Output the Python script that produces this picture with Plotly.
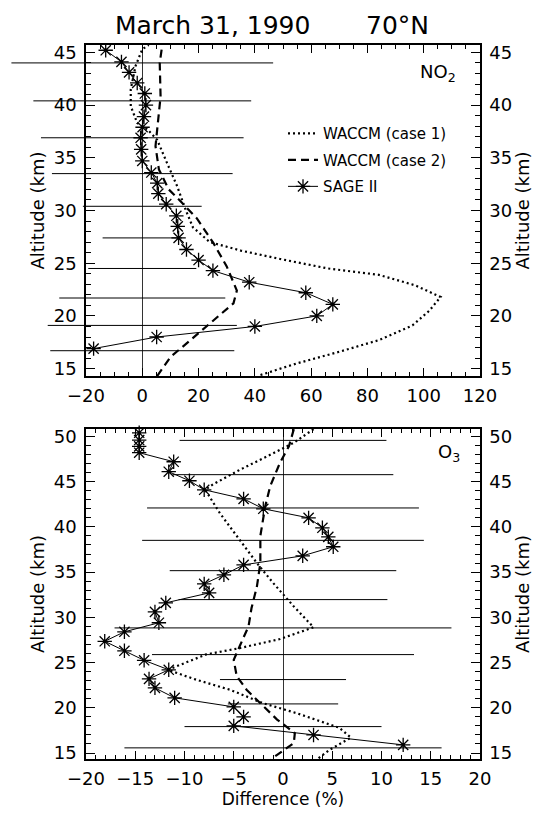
import plotly.graph_objects as go

# ─── DATA ─────────────────────────────────────────────────────
# NO2 panel (top)
no2_sage_alt = [45.2, 44.1, 43.1, 42.1, 41.1, 40.0, 38.9, 37.9, 36.9, 35.8, 34.7, 33.6, 32.6, 31.6,
                30.6, 29.5, 28.5, 27.4, 26.3, 25.3, 24.3, 23.2, 22.2, 21.1, 20.0, 19.0, 18.0, 16.9]
no2_sage_diff = [-13.0, -7.4, -4.7, -1.8, 0.9, 1.3, 0.6, 0.1, -0.6, -0.4, 0.0, 3.2, 5.3, 5.7,
                 8.5, 12.1, 12.6, 12.9, 15.7, 20.0, 25.1, 38.0, 58.1, 67.7, 62.0, 40.0, 5.1, -17.3]

no2_case1_alt = [14.4, 15.5, 16.6, 17.7, 19.1, 20.5, 21.8, 22.9, 23.9, 24.5, 25.4, 26.2, 27.0, 28.4,
                 30.0, 32.3, 34.5, 36.7, 37.7, 38.3, 39.9, 41.5, 43.7, 45.3, 45.7]
no2_case1_diff = [42.0, 55.0, 70.0, 84.0, 96.0, 102.0, 106.0, 97.0, 84.0, 66.0, 49.0, 35.0, 24.0, 18.0,
                  15.5, 12.4, 8.8, 5.3, 1.8, -1.8, -4.1, -4.1, -2.4, 0.0, 2.3]

no2_case2_alt = [14.3, 16.1, 17.7, 19.6, 21.2, 22.4, 24.7, 26.9, 29.25, 30.9, 32.0, 33.9, 36.1,
                 37.7, 40.8, 44.0, 45.7]
no2_case2_diff = [5.3, 10.0, 17.1, 25.3, 32.4, 33.6, 30.0, 25.3, 19.4, 13.5, 9.4, 5.9, 4.7,
                  5.3, 6.5, 6.2, 7.1]

no2_err_alt = [44.0, 40.4, 36.9, 33.5, 30.4, 27.4, 24.5, 21.7, 19.1, 16.7]
no2_err_half = [46.5, 38.7, 36.0, 32.1, 21.1, 14.1, 19.2, 29.5, 33.6, 32.7]

# O3 panel (bottom)
o3_sage_alt = [50.4, 49.6, 48.9, 48.2, 47.2, 46.1, 45.1, 44.1, 43.1, 42.0, 41.0, 39.9, 38.9, 37.8,
               36.8, 35.8, 34.7, 33.7, 32.7, 31.6, 30.6, 29.4, 28.4, 27.35, 26.3, 25.25, 24.2,
               23.2, 22.2, 21.1, 20.1, 19.0, 18.0, 17.0, 15.9]
o3_sage_diff = [-14.6, -14.6, -14.6, -14.6, -11.1, -11.6, -9.5, -8.0, -4.0, -2.0, 2.6, 4.0, 4.6, 5.1,
                2.0, -4.0, -6.0, -8.0, -7.5, -11.9, -13.0, -12.6, -16.1, -18.1, -16.1, -14.1, -11.6,
                -13.6, -13.0, -11.0, -5.0, -4.0, -5.0, 3.1, 12.2]

o3_case1_alt = [50.8, 49.3, 47.8, 46.3, 44.7, 44.1, 41.5, 39.0, 36.0, 33.8, 31.2, 28.9, 27.6, 26.6,
                25.9, 24.2, 23.1, 22.0, 20.5, 19.4, 18.5, 17.8, 16.7, 15.4, 14.6, 14.3]
o3_case1_diff = [3.1, 1.1, -1.6, -4.4, -7.1, -7.9, -6.4, -4.7, -2.65, -1.0, 1.1, 3.1, -0.3, -4.4,
                 -7.8, -11.7, -8.8, -5.4, -2.0, 1.4, 3.8, 5.7, 6.9, 4.8, 3.8, 3.5]

o3_case2_alt = [50.8, 48.9, 47.1, 44.5, 42.3, 39.0, 36.0, 33.4, 31.0, 29.0, 26.8, 25.3, 23.5, 22.0,
                20.5, 18.7, 17.2, 16.1, 14.8, 14.3]
o3_case2_diff = [1.1, 0.6, -0.3, -1.3, -1.8, -2.3, -2.3, -2.65, -3.2, -3.5, -4.4, -5.0, -4.7, -3.7,
                 -2.3, -0.6, 1.2, 1.1, -0.6, -1.2]

o3_err_alt = [49.56, 45.77, 42.09, 38.51, 35.16, 31.96, 28.83, 25.88, 23.12, 20.43, 17.92, 15.57]
o3_err_half = [10.5, 11.2, 13.8, 14.3, 11.5, 10.6, 17.1, 13.3, 6.4, 5.6, 10.0, 16.1]

# ─── STYLE / GEOMETRY ─────────────────────────────────────────
FONT = "DejaVu Sans"
INK = "black"
CLEAR = "rgba(0,0,0,0)"
STAR = dict(symbol="asterisk-open", size=12, color=INK, line=dict(width=1.3, color=INK))
TICKFONT = dict(family=FONT, size=18, color=INK)

# the page body adds an 8px offset, so the figure is sized to fit the window
W, H = 533, 812
PLOT_L, PLOT_R = 78, 472          # pixel edges of the framed panels
PLOT_T, PLOT_B = 37, 751
X_DOM = [PLOT_L / W, PLOT_R / W]
TOP = [0.5364, 1.0]
BOT = [0.0, 0.4622]
NO2_X = [-20, 120]
O3_X = [-20, 20]
NO2_Y = [14.3, 45.7]
O3_Y = [14.34, 50.82]


def full_width_range(rng):
    # same data scale as the framed axis, stretched over the whole figure width
    per_px = (rng[1] - rng[0]) / (PLOT_R - PLOT_L)
    return [rng[0] - PLOT_L * per_px, rng[1] + (W - PLOT_R) * per_px]


def add_panel(fig, xa, ya, xe, ye, sage_alt, sage_diff, c1_alt, c1_diff, c2_alt, c2_diff,
              err_alt, err_half, legend):
    # error bars live on a hidden full-width subplot so they can run past the frame
    fig.add_trace(go.Scatter(
        x=[0] * len(err_alt), y=err_alt, mode="markers",
        marker=dict(size=1, color=CLEAR),
        error_x=dict(type="data", array=err_half, symmetric=True, width=0,
                     thickness=1, color=INK),
        xaxis=xe, yaxis=ye, showlegend=False, hoverinfo="skip",
    ))
    fig.add_trace(go.Scatter(
        x=c1_diff, y=c1_alt, mode="lines", name="WACCM (case 1)", legendgroup="a",
        line=dict(color=INK, width=2.2, dash="2px,3px"),
        xaxis=xa, yaxis=ya, showlegend=legend,
    ))
    fig.add_trace(go.Scatter(
        x=c2_diff, y=c2_alt, mode="lines", name="WACCM (case 2)", legendgroup="b",
        line=dict(color=INK, width=2.2, dash="8px,5px"),
        xaxis=xa, yaxis=ya, showlegend=legend,
    ))
    fig.add_trace(go.Scatter(
        x=sage_diff, y=sage_alt, mode="lines+markers", name="SAGE II", legendgroup="c",
        line=dict(color=INK, width=1), marker=STAR,
        xaxis=xa, yaxis=ya, showlegend=legend, cliponaxis=False,
    ))


fig = go.Figure()
add_panel(fig, "x", "y", "x3", "y5", no2_sage_alt, no2_sage_diff, no2_case1_alt, no2_case1_diff,
          no2_case2_alt, no2_case2_diff, no2_err_alt, no2_err_half, True)
add_panel(fig, "x2", "y3", "x4", "y6", o3_sage_alt, o3_sage_diff, o3_case1_alt, o3_case1_diff,
          o3_case2_alt, o3_case2_diff, o3_err_alt, o3_err_half, False)

# make the right-hand overlay axes carry a trace so they render
fig.add_trace(go.Scatter(x=[None], y=[None], xaxis="x", yaxis="y2", showlegend=False))
fig.add_trace(go.Scatter(x=[None], y=[None], xaxis="x2", yaxis="y4", showlegend=False))


def xaxis(rng, dtick, minor, anchor, title=None):
    ax = dict(
        range=rng, dtick=dtick, tick0=0, anchor=anchor, domain=X_DOM, automargin=False,
        showline=True, linecolor=INK, linewidth=1.5, mirror="ticks",
        ticks="inside", ticklen=8, tickwidth=1, tickcolor=INK,
        minor=dict(dtick=minor, ticks="inside", ticklen=4, tickwidth=1, tickcolor=INK),
        showgrid=False, zeroline=True, zerolinecolor="#333333", zerolinewidth=1,
        tickfont=TICKFONT, ticklabelstandoff=3,
    )
    if title:
        ax["title"] = dict(text=title, font=dict(family=FONT, size=17, color=INK), standoff=2)
    return ax


def hidden_x(rng, anchor):
    return dict(range=full_width_range(rng), domain=[0, 1], anchor=anchor,
                showline=False, showticklabels=False, ticks="", showgrid=False,
                zeroline=False, automargin=False)


def hidden_y(rng, domain, anchor):
    return dict(range=rng, domain=domain, anchor=anchor,
                showline=False, showticklabels=False, ticks="", showgrid=False,
                zeroline=False, automargin=False)


def yaxis(rng, domain, anchor, side="left", overlay=None):
    ax = dict(
        range=rng, dtick=5, tick0=0, domain=domain, anchor=anchor, side=side,
        automargin=False,
        showline=True, linecolor=INK, linewidth=1.5,
        ticks="inside", ticklen=9, tickwidth=1, tickcolor=INK,
        minor=dict(dtick=1, ticks="inside", ticklen=5, tickwidth=1, tickcolor=INK),
        showgrid=False, zeroline=False, tickfont=TICKFONT,
        ticklabelstandoff=4,
        title=dict(text="Altitude (km)", font=dict(family=FONT, size=18, color=INK), standoff=4),
    )
    if overlay:
        ax["overlaying"] = overlay
    return ax


fig.update_layout(
    width=W, height=H,
    paper_bgcolor="white", plot_bgcolor=CLEAR,
    margin=dict(l=0, r=0, t=PLOT_T, b=H - PLOT_B, autoexpand=False),
    font=dict(family=FONT, color=INK),
    title=dict(text="March 31, 1990" + "\u00a0" * 7 + "70°N",
               x=264 / W, xanchor="center", y=1 - 17 / H, yanchor="middle",
               font=dict(family=FONT, size=25, color=INK)),
    xaxis=xaxis(NO2_X, 20, 5, "y"),
    xaxis2=xaxis(O3_X, 5, 1, "y3", title="Difference (%)"),
    xaxis3=hidden_x(NO2_X, "y5"),
    xaxis4=hidden_x(O3_X, "y6"),
    yaxis=yaxis(NO2_Y, TOP, "x"),
    yaxis2=yaxis(NO2_Y, TOP, "x", side="right", overlay="y"),
    yaxis3=yaxis(O3_Y, BOT, "x2"),
    yaxis4=yaxis(O3_Y, BOT, "x2", side="right", overlay="y3"),
    yaxis5=hidden_y(NO2_Y, TOP, "x3"),
    yaxis6=hidden_y(O3_Y, BOT, "x4"),
    showlegend=True,
    legend=dict(x=275 / W, y=0.899, xanchor="left", yanchor="top",
                bgcolor=CLEAR, borderwidth=0,
                font=dict(family=FONT, size=15, color=INK),
                traceorder="grouped", tracegroupgap=4, itemwidth=30),
    annotations=[
        dict(text="NO<sub>2</sub>", xref="x domain", yref="y domain", x=0.944, y=0.915,
             xanchor="right", yanchor="middle", showarrow=False,
             font=dict(family=FONT, size=18, color=INK)),
        dict(text="O<sub>3</sub>", xref="x2 domain", yref="y3 domain", x=0.954, y=0.927,
             xanchor="right", yanchor="middle", showarrow=False,
             font=dict(family=FONT, size=18, color=INK)),
    ],
)

fig.write_html("out.html")
